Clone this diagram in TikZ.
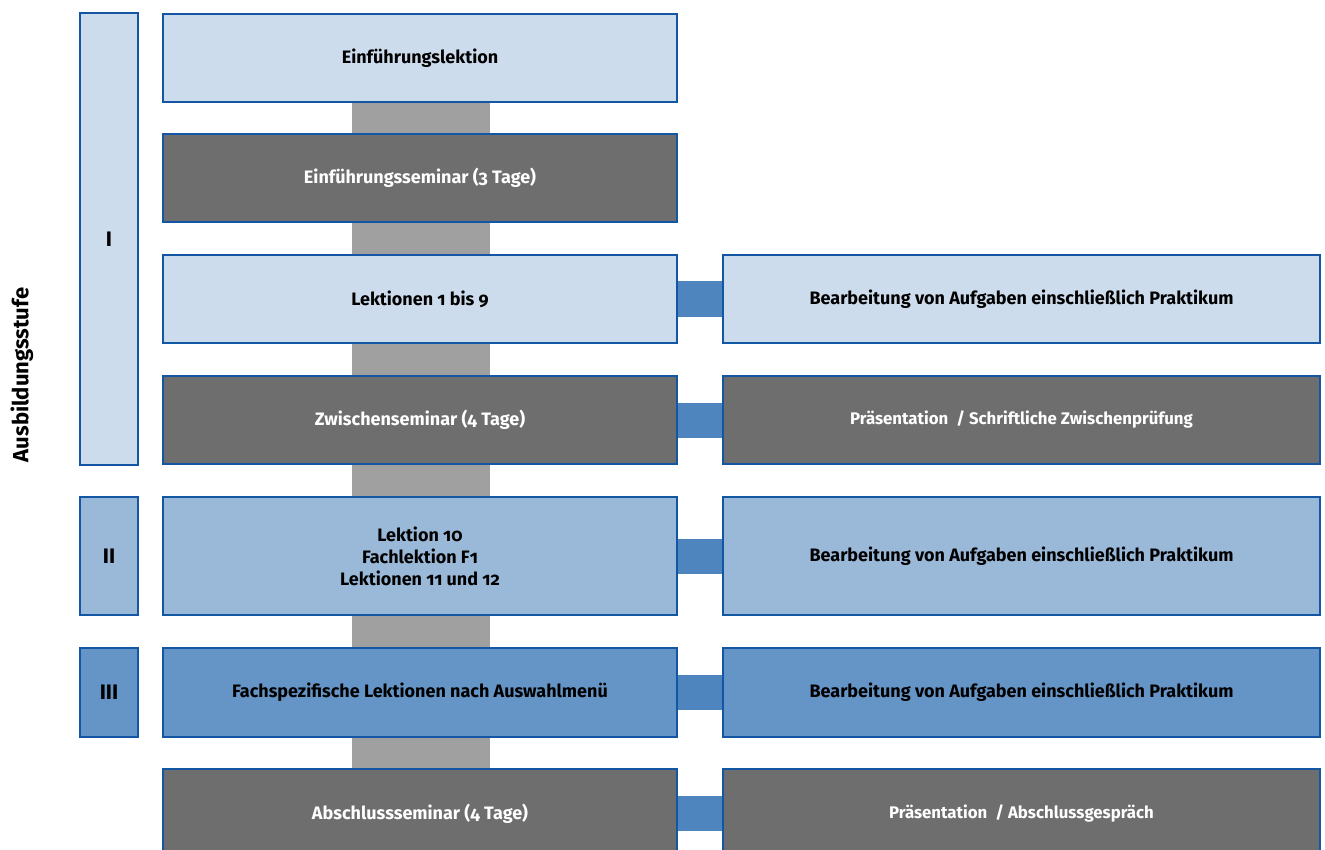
\documentclass[tikz,border=0pt]{standalone}
\usepackage{fontspec}
\setmainfont{Fira Sans}[Numbers=OldStyle]
\usetikzlibrary{calc,backgrounds}
\definecolor{bord}{RGB}{18,86,164}
\definecolor{lightb}{RGB}{205,220,236}
\definecolor{midb}{RGB}{154,184,216}
\definecolor{strongb}{RGB}{101,148,198}
\definecolor{darkg}{RGB}{110,110,110}
\definecolor{graycon}{RGB}{160,160,160}
\definecolor{bluecon}{RGB}{79,133,190}
\tikzset{
  box/.style={draw=bord, line width=2pt, rectangle, align=center, inner sep=0pt,
    font=\fontsize{18}{22}\selectfont\bfseries},
  lightbox/.style={box, fill=lightb, text=black},
  midbox/.style={box, fill=midb, text=black},
  strongbox/.style={box, fill=strongb, text=black},
  darkbox/.style={box, fill=darkg, text=white},
  smalltext/.style={font=\fontsize{16.8}{22}\selectfont\bfseries},
  numeral/.style={font=\fontsize{21}{24}\selectfont\bfseries},
  midcol/.style={minimum width=514pt},
  rightcol/.style={minimum width=597pt},
  leftcol/.style={minimum width=58pt},
  bluelink/.style={fill=bluecon},
  graylink/.style={fill=graycon}
}
\begin{document}
\begin{tikzpicture}[x=1pt,y=-1pt]
\clip (0,0) rectangle (1325,850);
% left stage bars
\node[lightbox, leftcol, numeral, minimum height=452pt] (s1) at (109,239) {I};
\node[midbox, leftcol, numeral, minimum height=118pt] (s2) at (109,556) {II};
\node[strongbox, leftcol, numeral, minimum height=89pt] (s3) at (109,692.5) {III};
\node[rotate=90, font=\fontsize{22}{26}\selectfont\bfseries] (lab) at (22,375) {Ausbildungsstufe};
% middle column
\node[lightbox, midcol, minimum height=88pt] (m1) at (420,58) {Einführungslektion};
\node[darkbox, midcol, minimum height=88pt] (m2) at (420,178) {Einführungsseminar (3 Tage)};
\node[lightbox, midcol, minimum height=88pt] (m3) at (420,299) {Lektionen 1 bis 9};
\node[darkbox, midcol, minimum height=88pt] (m4) at (420,420) {Zwischenseminar (4 Tage)};
\node[midbox, midcol, minimum height=118pt] (m5) at (420,556) {Lektion 10\\Fachlektion F1\\Lektionen 11 und 12};
\node[strongbox, midcol, minimum height=89pt] (m6) at (420,692.5) {Fachspezifische Lektionen nach Auswahlmenü};
\node[darkbox, midcol, minimum height=89pt] (m7) at (420,813.5) {Abschlussseminar (4 Tage)};
% right column
\node[lightbox, rightcol, minimum height=88pt] (r3) at (1021.5,299) {Bearbeitung von Aufgaben einschließlich Praktikum};
\node[darkbox, rightcol, smalltext, minimum height=88pt] (r4) at (1021.5,420) {Präsentation\ \ / Schriftliche Zwischenprüfung};
\node[midbox, rightcol, minimum height=118pt] (r5) at (1021.5,556) {Bearbeitung von Aufgaben einschließlich Praktikum};
\node[strongbox, rightcol, minimum height=89pt] (r6) at (1021.5,692.5) {Bearbeitung von Aufgaben einschließlich Praktikum};
\node[darkbox, rightcol, smalltext, minimum height=89pt] (r7) at (1021.5,813.5) {Präsentation\ \ / Abschlussgespräch};
\begin{scope}[on background layer]
  \fill[graylink] ($(m1.south)+(-68,0)$) rectangle ($(m7.north)+(70,0)$);
  \fill[bluelink] ($(m3.east)+(0,-17.5)$) rectangle ($(r3.west)+(0,17.5)$);
  \fill[bluelink] ($(m4.east)+(0,-17.5)$) rectangle ($(r4.west)+(0,17.5)$);
  \fill[bluelink] ($(m5.east)+(0,-17.5)$) rectangle ($(r5.west)+(0,17.5)$);
  \fill[bluelink] ($(m6.east)+(0,-17.5)$) rectangle ($(r6.west)+(0,17.5)$);
  \fill[bluelink] ($(m7.east)+(0,-17.5)$) rectangle ($(r7.west)+(0,17.5)$);
\end{scope}
\end{tikzpicture}
\end{document}
